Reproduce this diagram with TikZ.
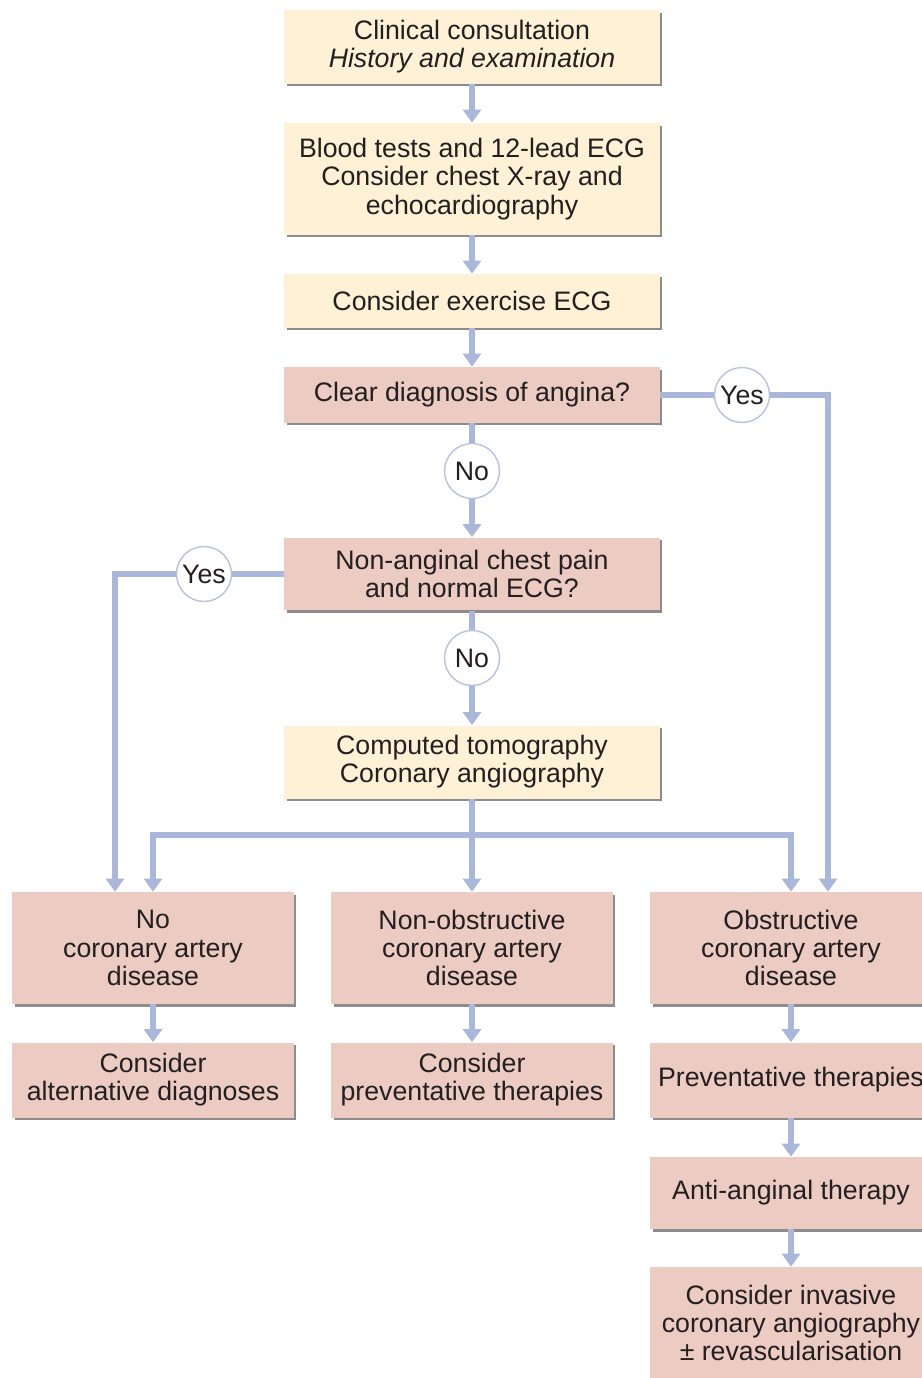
\documentclass[tikz,border=0pt]{standalone}
\usepackage{fontspec}
\setmainfont{Liberation Sans}
\usetikzlibrary{arrows.meta,positioning,shadows}
\definecolor{testfill}{HTML}{FEF1D6}
\definecolor{questfill}{HTML}{EBCBC2}
\definecolor{flowblue}{HTML}{A9B7DA}
\definecolor{ringblue}{HTML}{B7C2E2}
\definecolor{inkgray}{HTML}{231F20}

\begin{document}
\begin{tikzpicture}[
    x=0.02cm, y=-0.02cm,
    font=\fontsize{15.2}{16}\selectfont, text=inkgray,
    box/.style={rectangle, align=center, inner sep=0pt, minimum width=7.52cm,
                drop shadow={shadow xshift=0.05cm, shadow yshift=-0.05cm,
                             fill=black!45, opacity=1}},
    test/.style={box, fill=testfill},
    decision/.style={box, fill=questfill},
    outcome/.style={box, fill=questfill, minimum width=5.64cm},
    answer/.style={circle, draw=ringblue, fill=white, line width=0.8pt,
                   minimum size=1.1cm, inner sep=0pt},
    link/.style={draw=flowblue, line width=0.12cm},
    arrow/.style={link, -{Triangle[width=0.36cm,length=0.26cm]}}
]
\useasboundingbox (0,0) rectangle (921,1378);

% Work-up
\node[test, minimum height=1.48cm] (consult) at (472,47)
    {Clinical consultation\\\textit{History and examination}};
\node[test, minimum height=2.24cm] (bloods) at (472,179)
    {Blood tests and 12-lead ECG\\Consider chest X-ray and\\echocardiography};
\node[test, minimum height=1.08cm] (exercise) at (472,301) {Consider exercise ECG};

% Decisions
\node[decision, minimum height=1.12cm] (angina) at (472,395) {Clear diagnosis of angina?};
\node[answer] (no1) at (472,471) {No};
\node[answer] (yes1) at (742,395) {Yes};
\node[decision, minimum height=1.46cm] (nonang) at (472,574)
    {Non-anginal chest pain\\and normal ECG?};
\node[answer] (no2) at (472,658) {No};
\node[answer] (yes2) at (204,574) {Yes};
\node[test, minimum height=1.46cm] (ct) at (472,762)
    {Computed tomography\\Coronary angiography};

% Outcomes
\node[outcome, minimum height=2.24cm] (nocad) at (153,948) {No\\coronary artery\\disease};
\node[outcome, minimum height=2.24cm] (nonobs) at (472,948)
    {Non-obstructive\\coronary artery\\disease};
\node[outcome, minimum height=2.24cm] (obs) at (791,948)
    {Obstructive\\coronary artery\\disease};

% Management
\node[outcome, minimum height=1.5cm] (altdx) at (153,1080)
    {Consider\\alternative diagnoses};
\node[outcome, minimum height=1.5cm] (prevconsider) at (472,1080)
    {Consider\\preventative therapies};
\node[outcome, minimum height=1.5cm] (prevent) at (791,1080) {Preventative therapies};
\node[outcome, minimum height=1.44cm] (antiang) at (791,1193) {Anti-anginal therapy};
\node[outcome, minimum height=2.24cm] (invasive) at (791,1323)
    {Consider invasive\\coronary angiography\\± revascularisation};

\coordinate (split) at (472,835);

% Arrows
\draw[arrow] (consult) -- (bloods);
\draw[arrow] (bloods) -- (exercise);
\draw[arrow] (exercise) -- (angina);
\draw[link] (angina) -- (no1);
\draw[arrow] (no1) -- (nonang);
\draw[link] (nonang) -- (no2);
\draw[arrow] (no2) -- (ct);

\draw[link] (angina) -- (yes1);
\draw[arrow] (yes1) -| ([xshift=0.74cm]obs.north);
\draw[link] (nonang) -- (yes2);
\draw[arrow] (yes2) -| ([xshift=-0.76cm]nocad.north);

\draw[link] (ct) -- (split);
\draw[arrow] (split) -- (nonobs);
\draw[arrow] (split) -| (nocad);
\draw[arrow] (split) -| (obs);

\draw[arrow] (nocad) -- (altdx);
\draw[arrow] (nonobs) -- (prevconsider);
\draw[arrow] (obs) -- (prevent);
\draw[arrow] (prevent) -- (antiang);
\draw[arrow] (antiang) -- (invasive);

\end{tikzpicture}
\end{document}
